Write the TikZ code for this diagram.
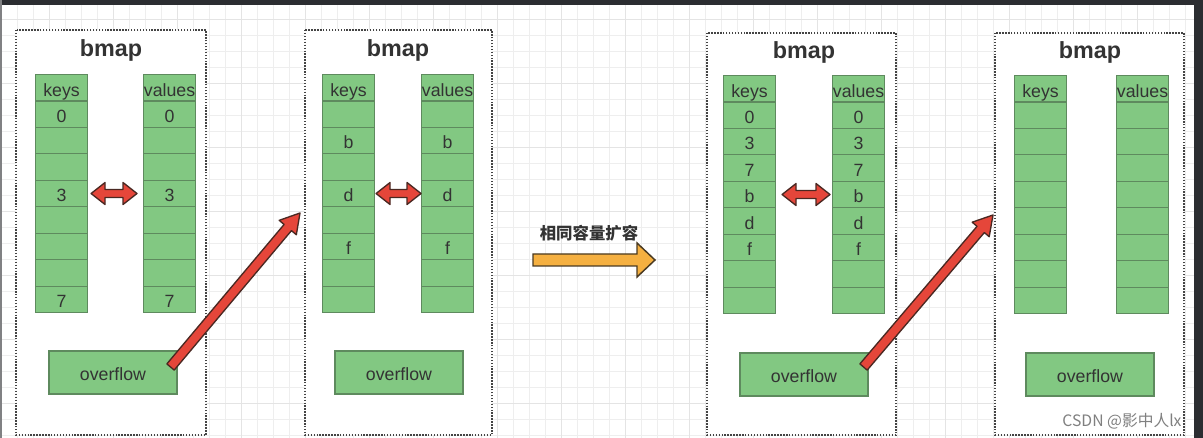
\documentclass[tikz,border=0pt]{standalone}
\usepackage{fontspec}
\setmainfont{Liberation Sans}
\newfontfamily\cjk{Noto Sans CJK SC}
\usetikzlibrary{calc}
\definecolor{cellgreen}{HTML}{82C882}
\definecolor{celledge}{HTML}{5E8A5E}
\definecolor{txt}{HTML}{333333}
\definecolor{arrred}{HTML}{E5463A}
\definecolor{arredge}{HTML}{4A2822}
\definecolor{arrorange}{HTML}{F5B041}
\definecolor{oredge}{HTML}{4A3A22}
\definecolor{gridc}{HTML}{EEEEEE}
\definecolor{gridd}{HTML}{E4E4E4}
\definecolor{framec}{HTML}{2B2D31}
\definecolor{boxedge}{HTML}{444444}

% fat single arrow: tail, tip, shaft half, head half, head length, style
\newcommand\myfatarrow[6]{%
  \coordinate (fab) at ($(#2)!#5!(#1)$);
  \filldraw[#6] ($(#1)!#3!90:(#2)$) -- ($(fab)!#3!-90:(#1)$) -- ($(fab)!#4!-90:(#1)$)
    -- (#2) -- ($(fab)!#4!90:(#1)$) -- ($(fab)!#3!90:(#1)$) -- ($(#1)!#3!-90:(#2)$) -- cycle;
}
% double arrow: A, B, style
\newcommand\mydblarrow[3]{%
  \coordinate (dba) at ($(#1)!10.5pt!(#2)$);
  \coordinate (dbb) at ($(#2)!10.5pt!(#1)$);
  \filldraw[#3] (#1) -- ($(dba)!8.25pt!90:(#2)$) -- ($(dba)!3pt!90:(#2)$)
    -- ($(dbb)!3pt!-90:(#1)$) -- ($(dbb)!8.25pt!-90:(#1)$) -- (#2)
    -- ($(dbb)!8.25pt!90:(#1)$) -- ($(dbb)!3pt!90:(#1)$)
    -- ($(dba)!3pt!-90:(#2)$) -- ($(dba)!8.25pt!-90:(#2)$) -- cycle;
}
% panel: name, keys x, values x, top y, row labels
\newcommand\mypanel[5]{%
  \node[cell] (#1k0) at (#2,#4) {keys};
  \node[cell] (#1v0) at (#3,#4) {values};
  \foreach \l [count=\i] in {#5} {
    \node[cell] (#1k\i) at (#2,{#4+\i*26.44}) {\l};
    \node[cell] (#1v\i) at (#3,{#4+\i*26.44}) {\l};
  }
}

\begin{document}
\begin{tikzpicture}[x=0.75pt,y=-0.75pt,
  cell/.style={draw=celledge, fill=cellgreen, line width=0.8pt,
    minimum width=39pt, minimum height=19.83pt, inner sep=0pt,
    anchor=north west, text=txt, text height=12.4pt, text depth=0pt,
    font=\fontsize{13.3}{13.3}\selectfont},
  ovbox/.style={draw=celledge, fill=cellgreen, line width=0.8pt,
    minimum width=96pt, minimum height=32.25pt, inner sep=0pt,
    text=txt, text height=11.6pt, text depth=0pt,
    font=\fontsize{13.3}{13.3}\selectfont},
  panelbox/.style={draw=boxedge, fill=white, line width=1.1pt,
    dash pattern=on 1.1pt off 1.1pt},
  title/.style={anchor=base, text=txt, font=\fontsize{17.5}{17.5}\selectfont\bfseries},
  redarrow/.style={fill=arrred, draw=arredge, line width=1pt, line join=round},
  orangearrow/.style={fill=arrorange, draw=oredge, line width=1.1pt, line join=miter},
]
\useasboundingbox (0,0) rectangle (1203,438);
\fill[white] (0,0) rectangle (1203,438);
% background grid
\foreach \gx in {1,17,...,1203} \draw[gridc, line width=0.6pt] (\gx,0) -- (\gx,438);
\foreach \gy in {3,19,...,438} \draw[gridc, line width=0.6pt] (0,\gy) -- (1203,\gy);
\foreach \gx in {49,113,...,1203} \draw[gridd, line width=0.6pt] (\gx,0) -- (\gx,438);
\foreach \gy in {19,83,...,438} \draw[gridd, line width=0.6pt] (0,\gy) -- (1203,\gy);
% frame
\fill[framec] (0,0) rectangle (1203,5);
\fill[framec] (1194,0) rectangle (1203,438);
\fill[framec!60] (0,0) rectangle (2,438);

% panel boxes
\draw[panelbox] (16,30) rectangle (206,435);
\draw[panelbox] (305,30) rectangle (492,435);
\draw[panelbox] (707,33) rectangle (896,435);
\draw[panelbox] (995,33) rectangle (1184,435);

% titles
\node[title] (t1) at (111,57) {bmap};
\node[title] (t2) at (398,57) {bmap};
\node[title] (t3) at (804,59) {bmap};
\node[title] (t4) at (1090,59) {bmap};

% columns
\mypanel{pa}{35}{143}{74}{0,{},{},3,{},{},{},7}
\mypanel{pb}{322}{421}{74}{{},b,{},d,{},f,{},{}}
\mypanel{pc}{723}{832}{75}{0,3,7,b,d,f,{},{}}
\mypanel{pd}{1014}{1116}{75}{{},{},{},{},{},{},{},{}}

% overflow boxes
\node[ovbox] (pao) at (113,372.5) {overflow};
\node[ovbox] (pbo) at (399,372.5) {overflow};
\node[ovbox] (pco) at (804,374.5) {overflow};
\node[ovbox] (pdo) at (1090,374.5) {overflow};

% key <-> value arrows
\coordinate (da1) at ($(pak4.east)+(3,0)$);
\coordinate (db1) at ($(pav4.west)+(-6,0)$);
\mydblarrow{da1}{db1}{redarrow}
\coordinate (da2) at ($(pbk4.east)+(1,0)$);
\coordinate (db2) at ($(pbv4.west)+(0,0)$);
\mydblarrow{da2}{db2}{redarrow}
\coordinate (da3) at ($(pck4.east)+(6,0)$);
\coordinate (db3) at ($(pcv4.west)+(-2,0)$);
\mydblarrow{da3}{db3}{redarrow}

% overflow -> next bucket arrows
\coordinate (ra1) at ($(pao.east)+(-7,-5.5)$);
\coordinate (rb1) at (300,213);
\myfatarrow{ra1}{rb1}{3.6pt}{8.4pt}{14.25pt}{redarrow}
\coordinate (ra2) at ($(pco.east)+(-5,-7.5)$);
\coordinate (rb2) at (993,215);
\myfatarrow{ra2}{rb2}{3.6pt}{8.4pt}{14.25pt}{redarrow}

% middle arrow
\node[text=txt, font=\cjk\bfseries\fontsize{12.3}{12.3}\selectfont] (mid) at (589,233) {相同容量扩容};
\coordinate (oa) at (533,260);
\coordinate (ob) at (655,260);
\myfatarrow{oa}{ob}{4.5pt}{12.75pt}{13.5pt}{orangearrow}

% watermark
\node[text=black!50, font=\cjk\fontsize{11.8}{11.8}\selectfont] (wm) at (1122,421) {CSDN @影中人lx};
\end{tikzpicture}
\end{document}
